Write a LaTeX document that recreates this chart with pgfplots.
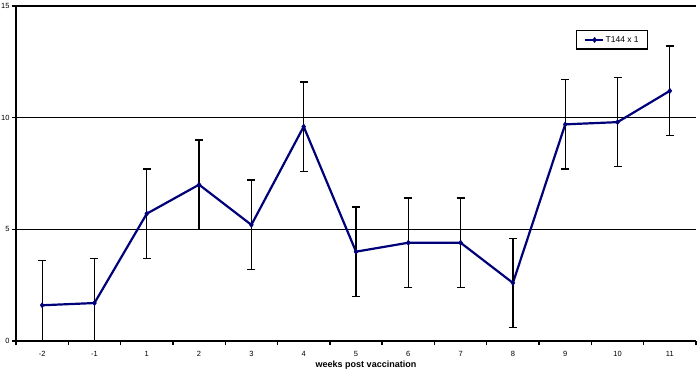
\documentclass[border=0pt]{standalone}
\usepackage{pgfplots}
\pgfplotsset{compat=1.18}
\usepackage{fontspec}
\setmainfont{Liberation Sans}
\definecolor{navy}{RGB}{0,0,120}
\begin{document}
\begin{tikzpicture}[x=1pt,y=1pt]
\useasboundingbox (0,0) rectangle (700,377);
\begin{axis}[
  at={(16pt,36pt)}, anchor=south west,
  scale only axis, width=680pt, height=335pt,
  xmin=-0.5, xmax=12.5, ymin=0, ymax=15,
  axis lines*=left,
  axis line style={black, line width=1.6pt},
  xtick={0,...,12},
  xticklabels={-2,-1,1,2,3,4,5,6,7,8,9,10,11},
  major x tick style={draw=none},
  minor xtick={-0.5,0.5,...,12.5},
  minor tick length=4pt,
  minor x tick style={black, line width=1.4pt},
  ytick={0,5,10,15},
  ymajorgrids,
  grid style={black, line width=1.4pt},
  major y tick style={black, line width=1.4pt},
  major tick length=4pt,
  tick align=outside,
  tick label style={font=\fontsize{7.5}{8}\selectfont},
  /pgf/number format/assume math mode=true,
  xticklabel style={yshift=-3pt},
  yticklabel style={xshift=1pt},
  xlabel={\textbf{weeks post vaccination}},
  xlabel style={font=\fontsize{9}{10}\selectfont, yshift=3pt, xshift=10pt},
  legend style={at={(0.8235,0.928)}, anchor=north west, draw=black, line width=1.3pt,
    font=\fontsize{8.5}{9}\selectfont, inner xsep=7pt, inner ysep=3.5pt, row sep=0pt,
    legend cell align=left},
  legend image code/.code={
    \draw[#1, line width=2pt] (0pt,0pt) -- (18pt,0pt);
    \draw[#1, mark repeat=1] plot coordinates {(10pt,0pt)};},
  clip=true,
]
\addplot[navy, line width=2.2pt, mark=diamond*, mark size=2.6pt,
  mark options={solid, line width=0.5pt, fill=navy},
  error bars/.cd, y dir=both, y explicit,
  error bar style={black, line width=1.2pt},
  error mark options={rotate=90, mark size=4pt, black, line width=1.4pt}]
coordinates {
(0,1.6) +- (0,2)
(1,1.7) +- (0,2)
(2,5.7) +- (0,2)
(3,7.0) +- (0,2)
(4,5.2) +- (0,2)
(5,9.6) +- (0,2)
(6,4.0) +- (0,2)
(7,4.4) +- (0,2)
(8,4.4) +- (0,2)
(9,2.6) +- (0,2)
(10,9.7) +- (0,2)
(11,9.8) +- (0,2)
(12,11.2) +- (0,2)
};
\addlegendentry{T144 x 1}
\end{axis}
\end{tikzpicture}
\end{document}
